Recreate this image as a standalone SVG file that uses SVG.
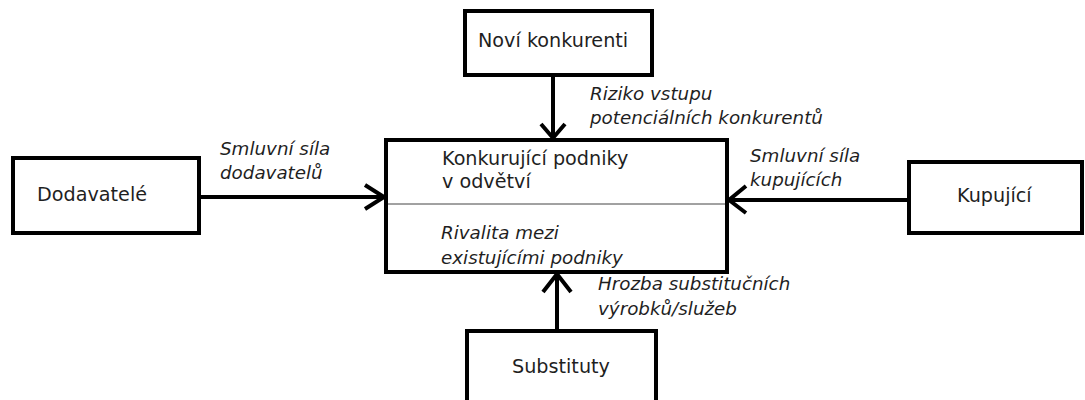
<svg xmlns="http://www.w3.org/2000/svg" width="1085" height="400" viewBox="0 0 1085 400">
<style>
.box{fill:#fff;stroke:#000;stroke-width:4}
.t{font-family:"DejaVu Sans",sans-serif;font-size:19.2px;fill:#1f1f1f}
.i{font-style:italic;font-size:18.3px}
.ln{stroke:#000;stroke-width:4;fill:none}
.ah{stroke:#000;stroke-width:4;fill:none;stroke-linecap:butt;stroke-linejoin:miter}
</style>
<rect width="1085" height="400" fill="#fff"/>
<g id="connectors">
<line class="ln" x1="553" y1="75" x2="553" y2="138"/>
<polyline class="ah" points="541,124 553,138 565,124"/>
<line class="ln" x1="199" y1="197" x2="384" y2="197"/>
<polyline class="ah" points="365,185 384,197 365,209"/>
<line class="ln" x1="908" y1="200" x2="729" y2="200"/>
<polyline class="ah" points="746,186 729,200 746,213"/>
<line class="ln" x1="557" y1="330" x2="557" y2="274"/>
<polyline class="ah" points="543,292 557,274 571,292"/>
<text class="t i" x="590" y="100">Riziko vstupu</text>
<text class="t i" x="590" y="124">potenciálních konkurentů</text>
<text class="t i" x="220" y="155">Smluvní síla</text>
<text class="t i" x="220" y="179">dodavatelů</text>
<text class="t i" x="750" y="162">Smluvní síla</text>
<text class="t i" x="750" y="186">kupujících</text>
<text class="t i" x="598" y="290">Hrozba substitučních</text>
<text class="t i" x="598" y="315">výrobků/služeb</text>
</g>
<g id="novi-konkurenti">
<rect class="box" x="465" y="11" width="187" height="64"/>
<text class="t" x="478" y="47">Noví konkurenti</text>
</g>
<g id="dodavatele">
<rect class="box" x="13" y="158" width="186" height="75"/>
<text class="t" x="37" y="201">Dodavatelé</text>
</g>
<g id="kupujici">
<rect class="box" x="909" y="162" width="173" height="71"/>
<text class="t" x="957" y="202">Kupující</text>
</g>
<g id="konkurujici-podniky">
<rect class="box" x="386" y="140" width="341" height="132"/>
<line x1="388" y1="204" x2="725" y2="204" stroke="#444" stroke-width="1"/>
<text class="t" x="442" y="165">Konkurující podniky</text>
<text class="t" x="442" y="188">v odvětví</text>
<text class="t i" x="441" y="239">Rivalita mezi</text>
<text class="t i" x="441" y="264">existujícími podniky</text>
</g>
<g id="substituty">
<rect class="box" x="467" y="331" width="189" height="80"/>
<text class="t" x="512" y="373">Substituty</text>
</g>
</svg>
